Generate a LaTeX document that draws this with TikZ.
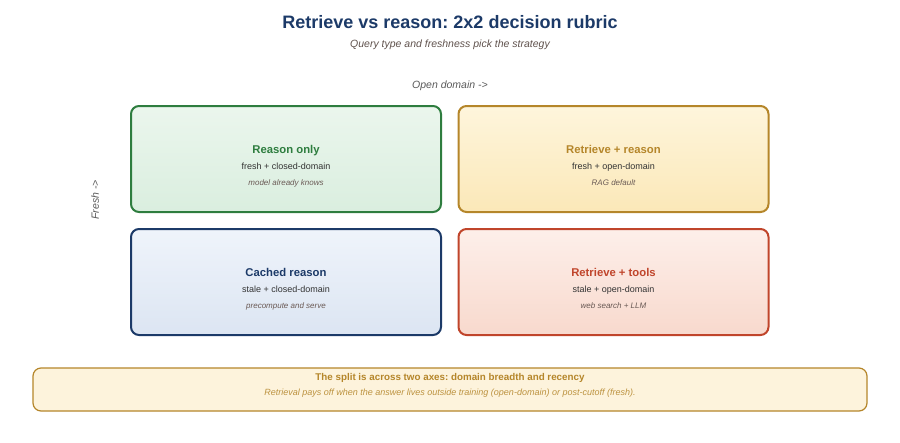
\documentclass[tikz,border=0pt]{standalone}
\usepackage{fontspec}
\setmainfont{Liberation Sans}
\usepackage{xcolor}
\usepackage{tikz}
\frenchspacing
\definecolor{navy}{HTML}{1C3A68}
\definecolor{grn}{HTML}{2E7D3F}
\definecolor{gold}{HTML}{B5862A}
\definecolor{rust}{HTML}{C0452B}
\definecolor{ink}{HTML}{333333}
\definecolor{note}{HTML}{6A5A55}
\definecolor{grnA}{HTML}{EBF6ED}\definecolor{grnB}{HTML}{DAEEDF}
\definecolor{goldA}{HTML}{FEF5DC}\definecolor{goldB}{HTML}{FBE8B8}
\definecolor{navyA}{HTML}{EFF4FB}\definecolor{navyB}{HTML}{DCE5F2}
\definecolor{rustA}{HTML}{FDEFEA}\definecolor{rustB}{HTML}{F8D9CD}
\definecolor{bannerfill}{HTML}{FDF3DC}
\tikzset{
  cell/.style={draw=#1, line width=2pt, rounded corners=8pt, minimum width=310pt, minimum height=106pt, inner sep=0pt},
  head/.style={anchor=base, font=\bfseries\fontsize{11.3}{13}\selectfont, text=#1},
  sub/.style={anchor=base, font=\fontsize{9}{11}\selectfont, text=ink},
  hint/.style={anchor=base, font=\itshape\fontsize{8}{10}\selectfont, text=note},
}
\begin{document}
\begin{tikzpicture}[x=1pt,y=-1pt]
  \useasboundingbox (0,0) rectangle (900,442);
  \node[font=\bfseries\fontsize{18}{22}\selectfont, text=navy] (title) at (450,22) {Retrieve vs reason: 2x2 decision rubric};
  \node[font=\itshape\fontsize{10.5}{12}\selectfont, text=note!90!black] (subtitle) at (450,45) {Query type and freshness pick the strategy};
  \node[font=\itshape\fontsize{10.5}{12}\selectfont, text=black!65] (xaxis) at (450,86) {Open domain ->};
  \node[font=\itshape\fontsize{10.5}{12}\selectfont, text=black!65, rotate=90] (yaxis) at (95,200) {Fresh ->};

  \node[cell=grn, top color=grnA, bottom color=grnB] (ro) at (286,159) {};
  \node[cell=gold, top color=goldA, bottom color=goldB] (rr) at (613.5,159) {};
  \node[cell=navy, top color=navyA, bottom color=navyB] (cr) at (286,282) {};
  \node[cell=rust, top color=rustA, bottom color=rustB] (rt) at (613.5,282) {};

  \node[head=grn] (roh) at ([yshift=6pt]ro.center) {Reason only};
  \node[sub] (ros) at ([yshift=-10pt]ro.center) {fresh + closed-domain};
  \node[hint] (roi) at ([yshift=-26pt]ro.center) {model already knows};
  \node[head=gold] (rrh) at ([yshift=6pt]rr.center) {Retrieve + reason};
  \node[sub] (rrs) at ([yshift=-10pt]rr.center) {fresh + open-domain};
  \node[hint] (rri) at ([yshift=-26pt]rr.center) {RAG default};
  \node[head=navy] (crh) at ([yshift=6pt]cr.center) {Cached reason};
  \node[sub] (crs) at ([yshift=-10pt]cr.center) {stale + closed-domain};
  \node[hint] (cri) at ([yshift=-26pt]cr.center) {precompute and serve};
  \node[head=rust] (rth) at ([yshift=6pt]rt.center) {Retrieve + tools};
  \node[sub] (rts) at ([yshift=-10pt]rt.center) {stale + open-domain};
  \node[hint] (rti) at ([yshift=-26pt]rt.center) {web search + LLM};

  \node[draw=gold, fill=bannerfill, line width=1.2pt, rounded corners=8pt, minimum width=834pt, minimum height=43pt] (split) at (450,389.5) {};
  \node[font=\bfseries\fontsize{9.8}{11}\selectfont, text=gold] (splith) at (450,378) {The split is across two axes: domain breadth and recency};
  \node[font=\itshape\fontsize{9}{10}\selectfont, text=gold!90!white] (splitn) at (450,393) {Retrieval pays off when the answer lives outside training (open-domain) or post-cutoff (fresh).};
\end{tikzpicture}
\end{document}
